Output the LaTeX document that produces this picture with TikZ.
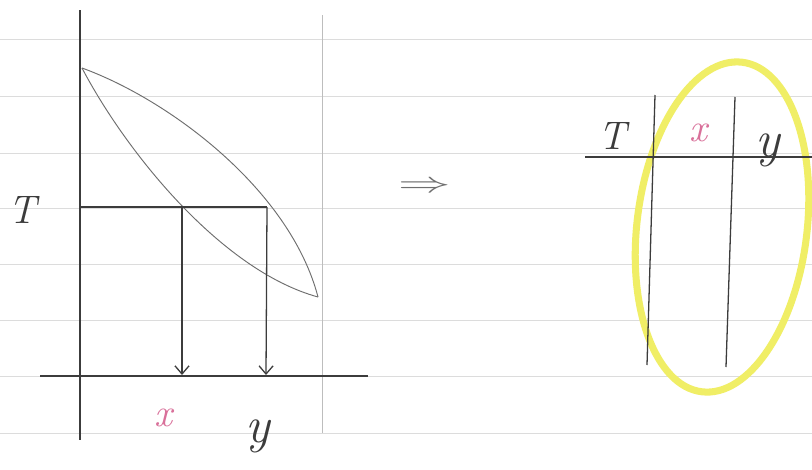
\documentclass[tikz,border=0pt]{standalone}
\usepackage{amsmath,amssymb}
\usepackage{fontspec}
\usepackage{xcolor}
\usepackage{tikz}
\usetikzlibrary{arrows.meta,positioning,calc}
\definecolor{skInk}{HTML}{3C3C3C}
\definecolor{skPencil}{HTML}{6E6E6E}
\definecolor{skRule}{HTML}{DCDCDC}
\definecolor{skMargin}{HTML}{BDBDBD}
\definecolor{skPink}{HTML}{D9709A}
\definecolor{skYellow}{HTML}{F0EE66}

\begin{document}
\begin{tikzpicture}[
  x=0.03cm,y=-0.03cm,
  rule/.style={draw=skRule,line width=0.8pt},
  margin/.style={draw=skMargin,line width=0.8pt},
  axis/.style={draw=skInk,line width=1.1pt},
  lens/.style={draw=skPencil,line width=0.8pt},
  drop/.style={axis,-{Straight Barb[length=7pt,width=12pt]}},
  hilite/.style={draw=skYellow,line width=6pt},
  hand/.style={font=\fontsize{34}{36}\selectfont\itshape,text=skInk,inner sep=0pt},
  bighand/.style={hand,font=\fontsize{44}{46}\selectfont\itshape},
  pinkhand/.style={hand,text=skPink}
]
\useasboundingbox[fill=white] (0,0) rectangle (812,469);
\foreach \y in {39,96,153,208,264,320,376,433}
  \draw[rule] (0,\y) -- (812,\y);
\coordinate (axTop) at (80,10);
\coordinate (axBot) at (80,440);
\coordinate (mgTop) at (322,15);
\coordinate (mgBot) at (322,433);
\coordinate (baseL) at (40,376);
\coordinate (baseR) at (368,376);
\coordinate (lensA) at (82,68);
\coordinate (lensB) at (318,297);
\coordinate (tStart) at (80,207);
\coordinate (hitX) at (182,207);
\coordinate (hitY) at (267,207);
\coordinate (footX) at (182,375);
\coordinate (footY) at (266,375);
\draw[margin] (mgTop) -- (mgBot);
\draw[axis] (axTop) -- (axBot);
\draw[axis] (baseL) -- (baseR);
\draw[lens] (lensA) .. controls (170,100) and (290,190) .. (lensB);
\draw[lens] (lensA) .. controls (125,150) and (220,270) .. (lensB);
\draw[axis] (tStart) -- (hitY);
\draw[drop] (hitX) -- (footX);
\draw[drop] (hitY) -- (footY);
\node[hand] (tL) at (22,210) {T};
\node[pinkhand] (xL) at (163,418) {x};
\node[bighand] (yL) at (258,436) {y};
\node[hand,text=skPencil,font=\fontsize{28}{30}\selectfont,xscale=1.8] (imp) at (425,187) {$\Rightarrow$};
\draw[hilite,rotate around={-7:(722,227)}] (722,227) ellipse [x radius=85,y radius=166];
\coordinate (hL) at (585,157);
\coordinate (hR) at (812,157);
\coordinate (c1t) at (655,95);
\coordinate (c1b) at (647,365);
\coordinate (c2t) at (735,97);
\coordinate (c2b) at (726,367);
\draw[axis] (hL) -- (hR);
\draw[axis] (c1t) -- (c1b);
\draw[axis] (c2t) -- (c2b);
\node[hand] (tR) at (612,136) {T};
\node[pinkhand] (xR) at (698,133) {x};
\node[bighand] (yR) at (768,150) {y};
\end{tikzpicture}
\end{document}
